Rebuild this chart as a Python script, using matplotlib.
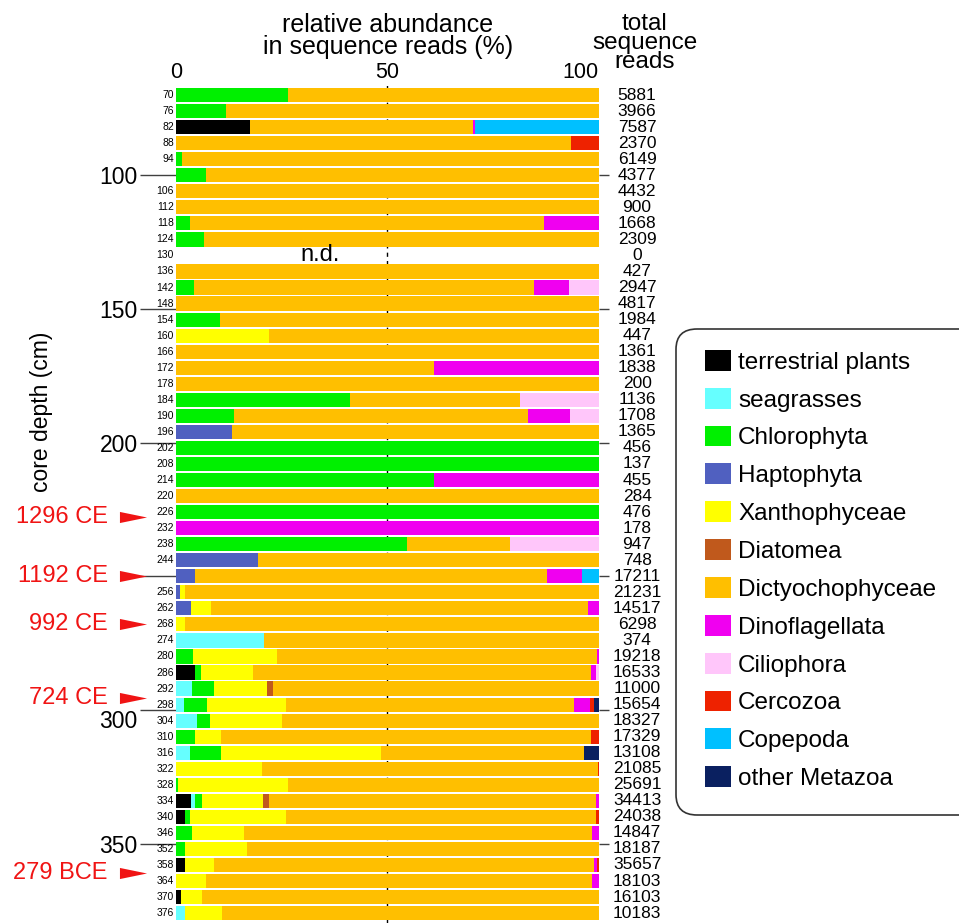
import numpy as np
import matplotlib
matplotlib.use('Agg')
import matplotlib.pyplot as plt
from matplotlib import transforms
from matplotlib.patches import FancyBboxPatch, Patch
from matplotlib.path import Path

plt.rcParams['font.family'] = ['Liberation Sans', 'DejaVu Sans']

### core depths (cm) and total sequence reads per sample
depths = [70, 76, 82, 88, 94, 100, 106, 112, 118, 124,
          130, 136, 142, 148, 154, 160, 166, 172, 178, 184,
          190, 196, 202, 208, 214, 220, 226, 232, 238, 244,
          250, 256, 262, 268, 274, 280, 286, 292, 298, 304,
          310, 316, 322, 328, 334, 340, 346, 352, 358, 364,
          370, 376]

total_reads = [5881, 3966, 7587, 2370, 6149, 4377, 4432, 900, 1668, 2309,
               0, 427, 2947, 4817, 1984, 447, 1361, 1838, 200, 1136,
               1708, 1365, 456, 137, 455, 284, 476, 178, 947, 748,
               17211, 21231, 14517, 6298, 374, 19218, 16533, 11000, 15654, 18327,
               17329, 13108, 21085, 25691, 34413, 24038, 14847, 18187, 35657, 18103,
               16103, 10183]

### relative abundance (%) for each group, same order as depths
terrestrial = [0, 0, 17.6, 0, 0, 0, 0, 0, 0, 0,
               0, 0, 0, 0, 0, 0, 0, 0, 0, 0,
               0, 0, 0, 0, 0, 0, 0, 0, 0, 0,
               0, 0, 0, 0, 0, 0, 4.4, 0, 0, 0,
               0, 0, 0, 0, 3.6, 2.1, 0, 0, 2.1, 0,
               1.2, 0]
seagrasses = [0, 0, 0, 0, 0, 0, 0, 0, 0, 0,
              0, 0, 0, 0, 0, 0, 0, 0, 0, 0,
              0, 0, 0, 0, 0, 0, 0, 0, 0, 0,
              0, 0, 0, 0, 20.8, 0, 0, 3.7, 1.9, 5.0,
              0, 3.2, 0, 0, 1.0, 0, 0, 0, 0, 0,
              0, 2.1]
chlorophyta = [26.4, 11.9, 0, 0, 1.4, 7.0, 0, 0, 3.4, 6.7,
               0, 0, 4.3, 0, 10.4, 0, 0, 0, 0, 41.1,
               13.8, 0, 100, 100, 60.9, 0, 100, 0, 54.5, 0,
               0, 0, 0, 0, 0, 4.0, 1.4, 5.4, 5.5, 3.0,
               4.5, 7.5, 0, 0.4, 1.5, 1.1, 3.7, 2.2, 0, 0,
               0, 0]
haptophyta = [0, 0, 0, 0, 0, 0, 0, 0, 0, 0,
              0, 0, 0, 0, 0, 0, 0, 0, 0, 0,
              0, 13.3, 0, 0, 0, 0, 0, 0, 0, 19.5,
              4.6, 1.0, 3.6, 0, 0, 0, 0, 0, 0, 0,
              0, 0, 0, 0, 0, 0, 0, 0, 0, 0,
              0, 0]
xanthophyceae = [0, 0, 0, 0, 0, 0, 0, 0, 0, 0,
                 0, 0, 0, 0, 0, 21.9, 0, 0, 0, 0,
                 0, 0, 0, 0, 0, 0, 0, 0, 0, 0,
                 0, 1.2, 4.7, 2.1, 0, 19.8, 12.4, 12.5, 18.5, 17.1,
                 6.2, 37.7, 20.4, 26.2, 14.5, 22.7, 12.4, 14.5, 6.8, 7.0,
                 5.0, 8.8]
diatomea = [0, 0, 0, 0, 0, 0, 0, 0, 0, 0,
            0, 0, 0, 0, 0, 0, 0, 0, 0, 0,
            0, 0, 0, 0, 0, 0, 0, 0, 0, 0,
            0, 0, 0, 0, 0, 0, 0, 1.3, 0, 0,
            0, 0, 0, 0, 1.3, 0, 0, 0, 0, 0,
            0, 0]
dictyochophyceae = [73.6, 88.1, 52.6, 93.5, 98.6, 93.0, 100, 100, 83.7, 93.3,
                    0, 100, 80.3, 100, 89.6, 78.1, 100, 61.1, 100, 40.2,
                    69.4, 86.7, 0, 0, 0, 100, 0, 0, 24.4, 80.5,
                    83.2, 97.8, 89.1, 97.9, 79.2, 75.8, 80.0, 77.1, 68.3, 74.9,
                    87.5, 48.0, 79.3, 73.4, 77.5, 73.5, 82.3, 83.3, 90.0, 91.4,
                    93.8, 89.1]
dinoflagellata = [0, 0, 0.5, 0, 0, 0, 0, 0, 12.9, 0,
                  0, 0, 8.2, 0, 0, 0, 0, 38.9, 0, 0,
                  10.0, 0, 0, 0, 39.1, 0, 0, 100, 0, 0,
                  8.3, 0, 2.6, 0, 0, 0.4, 1.0, 0, 3.7, 0,
                  0, 0, 0, 0, 0.6, 0, 1.6, 0, 0.7, 1.6,
                  0, 0]
ciliophora = [0, 0, 0, 0, 0, 0, 0, 0, 0, 0,
              0, 0, 7.2, 0, 0, 0, 0, 0, 0, 18.7,
              6.8, 0, 0, 0, 0, 0, 0, 0, 21.1, 0,
              0, 0, 0, 0, 0, 0, 0.8, 0, 0, 0,
              0, 0, 0, 0, 0, 0, 0, 0, 0, 0,
              0, 0]
cercozoa = [0, 0, 0, 6.5, 0, 0, 0, 0, 0, 0,
            0, 0, 0, 0, 0, 0, 0, 0, 0, 0,
            0, 0, 0, 0, 0, 0, 0, 0, 0, 0,
            0, 0, 0, 0, 0, 0, 0, 0, 1.0, 0,
            1.8, 0, 0.3, 0, 0, 0.6, 0, 0, 0.4, 0,
            0, 0]
copepoda = [0, 0, 29.3, 0, 0, 0, 0, 0, 0, 0,
            0, 0, 0, 0, 0, 0, 0, 0, 0, 0,
            0, 0, 0, 0, 0, 0, 0, 0, 0, 0,
            3.9, 0, 0, 0, 0, 0, 0, 0, 0, 0,
            0, 0, 0, 0, 0, 0, 0, 0, 0, 0,
            0, 0]
other_metazoa = [0, 0, 0, 0, 0, 0, 0, 0, 0, 0,
                 0, 0, 0, 0, 0, 0, 0, 0, 0, 0,
                 0, 0, 0, 0, 0, 0, 0, 0, 0, 0,
                 0, 0, 0, 0, 0, 0, 0, 0, 1.1, 0,
                 0, 3.6, 0, 0, 0, 0, 0, 0, 0, 0,
                 0, 0]

groups = ['terrestrial plants', 'seagrasses', 'Chlorophyta', 'Haptophyta',
          'Xanthophyceae', 'Diatomea', 'Dictyochophyceae', 'Dinoflagellata',
          'Ciliophora', 'Cercozoa', 'Copepoda', 'other Metazoa']
colors = ['#000000', '#66ffff', '#00f000', '#5060c0',
          '#ffff00', '#c0591c', '#ffbf00', '#f000f0',
          '#ffc6fa', '#ee2200', '#00c0ff', '#0a2060']
values = [terrestrial, seagrasses, chlorophyta, haptophyta,
          xanthophyceae, diatomea, dictyochophyceae, dinoflagellata,
          ciliophora, cercozoa, copepoda, other_metazoa]

# dated horizons
era_labels = ['1296 CE', '1192 CE', '992 CE', '724 CE', '279 BCE']
era_depths = [228, 250, 268, 295.5, 361]

fig = plt.figure(figsize=(9.59, 9.23), dpi=100)
ax = fig.add_axes([0.1835, 0.0, 0.4411, 0.9086])

# dashed 50% line, shows only in the gaps between bars
ax.axvline(50, color='black', lw=1, ls=(0, (3, 3)), zorder=0)

left = np.zeros(len(depths))
for name, col, vals in zip(groups, colors, values):
    vals = np.array(vals)
    ax.barh(depths, vals, left=left, height=5.3, color=col, linewidth=0, zorder=2)
    left += vals

ax.set_xlim(0, 100)
ax.set_ylim(379.7, 66)
for s in ax.spines.values():
    s.set_visible(False)

ax.xaxis.tick_top()
ax.set_xticks([0, 50, 100])
ax.tick_params(axis='x', length=0, pad=1, labelsize=15.5)
ax.get_xticklabels()[2].set_ha('right')

ax.set_yticks([100, 150, 200, 250, 300, 350])
ax.set_yticklabels(['100', '150', '200', '', '', '350'])
ax.tick_params(axis='y', length=26, width=1, color='#404040', pad=1.5, labelsize=16.5)

trans = transforms.blended_transform_factory(ax.transAxes, ax.transData)
# the 300 label sits a bit below its tick, clear of the 724 CE arrow
ax.text(-0.0915, 304.5, '300', transform=trans, ha='right', va='center', fontsize=16.5)

ax2 = ax.twinx()
ax2.set_ylim(ax.get_ylim())
ax2.set_yticks([100, 150, 200, 250, 300, 350])
ax2.set_yticklabels([])
ax2.tick_params(axis='y', length=7, width=1, color='#404040')
for s in ax2.spines.values():
    s.set_visible(False)

# small depth labels and read counts
for d, r in zip(depths, total_reads):
    if d not in (100, 250):
        ax.text(-0.5, d, str(d), ha='right', va='center', fontsize=7.5)
    ax.text(109, d, str(r), ha='center', va='center', fontsize=12.5)

ax.text(34, 130, 'n.d.', ha='center', va='center', fontsize=17)

# red arrows for dates
tri = Path([(-1, -0.41), (1, 0), (-1, 0.41), (-1, -0.41)],
           [Path.MOVETO, Path.LINETO, Path.LINETO, Path.CLOSEPOLY])
ax.plot([-0.1005] * len(era_depths), era_depths, ls='none', marker=tri, ms=19.5,
        color='#f01414', mec='none', transform=trans, clip_on=False)
for lab, d in zip(era_labels, era_depths):
    ax.text(-0.161, d, lab, transform=trans, ha='right', va='center',
            color='#f01414', fontsize=17)

fig.text(388 / 959, 1 - 36 / 923, 'relative abundance\nin sequence reads (%)',
         ha='center', va='center', fontsize=18, linespacing=0.9)
fig.text(645 / 959, 1 - 43 / 923, 'total\nsequence\nreads',
         ha='center', va='center', fontsize=17.5, linespacing=0.82)
fig.text(42 / 959, 1 - 412 / 923, 'core depth (cm)', rotation=90,
         ha='center', va='center', fontsize=16.5)

# legend with rounded box
handles = [Patch(facecolor=c, edgecolor='none', label=g) for g, c in zip(groups, colors)]
fig.legend(handles=handles, loc='center left', bbox_to_anchor=(705 / 959, 1 - 570 / 923),
           frameon=False, fontsize=17.5, handlelength=1.06, handleheight=0.94,
           handletextpad=0.3, labelspacing=0.58, borderpad=0, borderaxespad=0)
fig.patches.append(FancyBboxPatch((676 / 959, 1 - 815 / 923), 0.33, 486 / 923,
                                  boxstyle='round,pad=0,rounding_size=0.022',
                                  transform=fig.transFigure, fc='none',
                                  ec='#333333', lw=1.2))

fig.savefig('out.png', dpi=100)
